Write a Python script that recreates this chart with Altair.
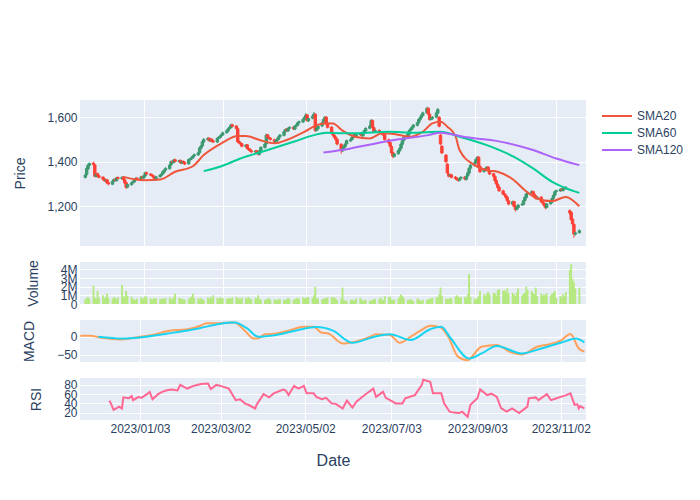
import altair as alt
import pandas as pd

# ---------------- data ----------------
N_DAYS = 260
dates = pd.bdate_range("2022-11-21", periods=N_DAYS, freq="C", weekmask="Sun Mon Tue Wed Thu")
date_str = [d.strftime("%Y-%m-%d") for d in dates]

opens = [
    1330,1342,1368,1384,1394,1386,1334,1346,1337,1331,
    1323,1314,1319,1306,1299,1313,1321,1315,1329,1324,
    1331,1319,1306,1286,1297,1306,1309,1319,1326,1319,
    1333,1327,1336,1351,1344,1341,1337,1331,1319,1333,
    1339,1346,1354,1363,1369,1386,1401,1397,1409,1401,
    1406,1394,1401,1397,1391,1409,1413,1417,1426,1431,
    1441,1461,1471,1489,1501,1506,1494,1501,1493,1489,
    1506,1509,1516,1521,1531,1539,1549,1554,1566,1561,
    1549,1491,1484,1481,1469,1476,1459,1456,1449,1444,
    1449,1441,1434,1451,1464,1481,1521,1509,1506,1499,
    1489,1496,1501,1513,1519,1536,1546,1539,1551,1556,
    1547,1561,1564,1576,1579,1591,1599,1611,1584,1596,
    1604,1614,1541,1549,1561,1574,1591,1601,1571,1556,
    1531,1519,1511,1501,1479,1449,1461,1469,1481,1494,
    1501,1509,1521,1514,1523,1526,1517,1531,1539,1551,
    1559,1586,1554,1536,1541,1534,1531,1524,1521,1499,
    1486,1469,1441,1424,1436,1449,1461,1479,1496,1509,
    1524,1541,1547,1556,1564,1576,1589,1599,1609,1621,
    1641,1614,1591,1594,1601,1619,1600,1520,1470,1430,
    1390,1345,1336,1341,1331,1326,1321,1317,1326,1331,
    1321,1336,1349,1371,1384,1396,1409,1421,1379,1356,
    1364,1371,1376,1359,1346,1334,1316,1299,1286,1269,
    1256,1249,1241,1224,1209,1221,1199,1186,1194,1206,
    1209,1226,1239,1256,1259,1266,1254,1246,1234,1241,
    1221,1214,1206,1194,1211,1219,1236,1249,1266,1269,
    1276,1271,1281,1279,1180,1172,1142,1118,1074,1081,
]
closes = [
    1340,1370,1385,1392,1388,1335,1345,1338,1330,1322,
    1315,1318,1305,1300,1312,1320,1316,1328,1325,1330,
    1320,1305,1285,1298,1305,1310,1318,1325,1320,1332,
    1328,1335,1350,1345,1340,1338,1330,1320,1332,1340,
    1345,1355,1362,1370,1385,1400,1398,1408,1402,1405,
    1395,1400,1398,1390,1410,1412,1418,1425,1432,1440,
    1462,1470,1490,1500,1505,1495,1500,1492,1490,1505,
    1510,1515,1522,1530,1540,1548,1555,1565,1560,1550,
    1490,1485,1480,1470,1475,1460,1455,1450,1445,1448,
    1440,1435,1450,1465,1480,1520,1510,1505,1500,1490,
    1495,1502,1512,1520,1535,1545,1540,1550,1555,1548,
    1560,1565,1575,1580,1590,1600,1610,1585,1595,1605,
    1615,1540,1550,1560,1575,1590,1600,1570,1555,1530,
    1520,1510,1500,1480,1450,1460,1470,1480,1495,1500,
    1510,1520,1515,1522,1525,1518,1530,1540,1550,1560,
    1585,1555,1535,1540,1535,1530,1525,1520,1500,1485,
    1470,1440,1425,1435,1450,1460,1480,1495,1510,1525,
    1540,1548,1555,1565,1575,1590,1598,1610,1620,1640,
    1615,1590,1595,1600,1620,1635,1560,1480,1440,1400,
    1350,1335,1340,1330,1325,1320,1318,1325,1330,1322,
    1335,1350,1370,1385,1395,1410,1420,1380,1355,1365,
    1370,1375,1360,1345,1335,1315,1300,1285,1270,1255,
    1250,1240,1225,1210,1220,1200,1185,1195,1205,1210,
    1225,1240,1255,1260,1265,1255,1245,1235,1240,1220,
    1215,1205,1195,1210,1220,1235,1250,1265,1270,1275,
    1272,1280,1280,1285,1170,1140,1120,1075,1080,1090,
]
highs = [
    1345,1376,1390,1398,1400,1390,1350,1351,1342,1335,
    1328,1323,1323,1311,1316,1325,1326,1332,1334,1335,
    1336,1323,1310,1303,1310,1315,1323,1330,1331,1337,
    1338,1341,1356,1355,1349,1346,1341,1335,1337,1345,
    1350,1360,1367,1376,1390,1406,1406,1413,1414,1410,
    1410,1405,1406,1402,1415,1418,1423,1430,1437,1446,
    1468,1476,1496,1507,1511,1511,1505,1506,1498,1510,
    1515,1520,1527,1536,1545,1554,1561,1572,1571,1565,
    1553,1496,1489,1486,1480,1480,1464,1461,1454,1453,
    1453,1446,1455,1470,1486,1527,1525,1514,1510,1504,
    1500,1507,1517,1525,1540,1550,1551,1555,1560,1561,
    1565,1570,1580,1586,1596,1606,1620,1615,1600,1611,
    1624,1618,1556,1565,1580,1596,1606,1605,1576,1560,
    1535,1524,1515,1505,1483,1466,1475,1486,1500,1506,
    1515,1526,1526,1528,1531,1530,1535,1545,1556,1566,
    1592,1590,1559,1546,1546,1539,1536,1529,1525,1504,
    1490,1473,1446,1440,1455,1465,1486,1500,1515,1530,
    1545,1553,1560,1570,1580,1596,1604,1616,1626,1648,
    1645,1618,1600,1606,1626,1642,1605,1525,1475,1435,
    1394,1350,1346,1346,1336,1331,1326,1330,1336,1335,
    1340,1356,1376,1391,1401,1416,1426,1425,1384,1370,
    1376,1381,1380,1364,1350,1339,1320,1304,1290,1274,
    1261,1254,1245,1229,1225,1225,1204,1200,1210,1215,
    1230,1245,1260,1266,1272,1270,1259,1250,1245,1245,
    1226,1219,1210,1215,1225,1240,1255,1270,1276,1281,
    1281,1286,1287,1291,1185,1176,1146,1122,1086,1096,
]
lows = [
    1325,1338,1362,1380,1383,1330,1329,1333,1325,1317,
    1310,1309,1300,1294,1295,1308,1311,1311,1320,1319,
    1315,1300,1278,1281,1292,1301,1304,1314,1315,1314,
    1323,1322,1331,1340,1335,1333,1325,1314,1315,1328,
    1334,1341,1349,1358,1364,1381,1393,1392,1397,1396,
    1390,1389,1393,1385,1386,1404,1408,1412,1421,1426,
    1436,1456,1466,1484,1496,1490,1489,1487,1484,1484,
    1501,1504,1511,1516,1526,1534,1544,1549,1555,1545,
    1485,1479,1474,1465,1464,1455,1450,1445,1439,1439,
    1435,1428,1429,1446,1459,1476,1505,1500,1495,1485,
    1484,1491,1496,1508,1514,1531,1535,1534,1546,1543,
    1542,1556,1559,1571,1574,1586,1594,1580,1579,1591,
    1599,1535,1536,1544,1556,1569,1586,1565,1550,1525,
    1515,1505,1495,1474,1436,1444,1456,1464,1476,1489,
    1496,1504,1510,1509,1518,1513,1512,1526,1534,1546,
    1554,1550,1530,1531,1530,1525,1520,1515,1495,1480,
    1465,1434,1416,1419,1431,1444,1456,1474,1491,1504,
    1519,1536,1542,1551,1559,1571,1584,1594,1604,1616,
    1610,1585,1586,1589,1596,1614,1555,1475,1435,1395,
    1345,1330,1331,1325,1319,1314,1310,1312,1321,1316,
    1316,1331,1344,1366,1379,1391,1404,1375,1350,1351,
    1359,1366,1355,1340,1330,1310,1295,1280,1264,1250,
    1244,1235,1220,1204,1204,1195,1176,1181,1189,1201,
    1204,1221,1234,1251,1254,1250,1240,1230,1229,1215,
    1210,1199,1186,1189,1206,1214,1231,1244,1261,1264,
    1267,1266,1275,1274,1160,1134,1114,1058,1068,1076,
]
volumes_m = [
    0.55,0.7,0.8,0.6,2.1,0.75,0.6,1.5,0.7,1.0,
    0.65,0.8,1.2,0.7,0.6,0.8,0.7,0.55,0.75,2.2,
    0.9,0.8,1.5,0.95,0.85,0.6,0.5,0.45,0.6,0.75,
    0.7,0.6,0.9,0.8,0.65,0.55,0.6,0.7,0.65,0.6,
    0.55,0.65,0.6,0.7,0.75,0.6,0.55,0.8,1.2,0.7,
    0.65,0.6,0.55,0.5,0.6,0.7,0.85,1.2,0.7,0.65,
    0.6,0.65,0.55,0.5,0.75,0.6,0.8,0.65,1.0,0.7,
    0.6,0.75,0.65,0.7,0.6,0.65,0.7,0.6,0.75,0.8,
    0.7,0.65,0.6,0.75,0.7,0.65,0.8,0.6,0.55,0.7,
    0.65,1.0,0.6,0.5,0.45,0.55,0.6,0.65,0.5,0.55,
    0.5,0.45,0.55,0.6,0.5,0.45,0.55,0.7,0.6,0.5,
    0.55,0.65,0.7,0.6,0.75,0.65,0.7,0.8,0.75,0.7,
    1.0,2.0,0.65,0.6,0.55,0.6,0.65,0.7,0.75,0.8,
    0.7,0.8,0.6,0.45,0.65,1.9,0.5,0.35,0.4,0.45,
    0.55,0.35,0.45,0.65,0.7,0.55,0.3,0.45,0.5,0.4,
    0.35,0.5,0.55,0.6,0.55,0.75,0.5,0.45,0.9,0.8,
    0.85,0.5,0.45,0.55,0.6,0.85,1.1,0.9,0.7,0.5,
    0.45,0.6,0.4,0.35,0.65,0.55,0.4,0.35,0.5,0.45,
    0.55,0.6,0.65,0.7,0.75,0.8,1.1,1.9,0.95,0.6,
    0.6,0.55,0.7,0.65,0.85,1.0,0.9,0.7,0.8,0.85,
    0.7,1.1,3.45,0.8,0.65,0.5,0.7,0.9,1.5,1.1,
    0.85,1.2,1.4,1.1,1.3,1.2,0.95,1.6,1.7,1.5,
    1.6,1.4,1.8,1.2,1.3,1.1,0.9,1.3,1.8,1.0,
    1.2,1.3,2.0,1.6,1.5,1.3,1.1,1.9,0.9,1.2,
    0.95,1.1,1.0,1.25,1.0,1.2,1.3,1.5,0.7,0.9,
    0.75,1.1,0.9,1.4,3.95,4.6,2.9,2.5,1.8,1.9,
]

# moving averages (trading-day index, value)
sma20_idx = [20,31,39,48,57,63,72,80,84,92,99,106,115,122,127,130,135,142,149,156,163,170,178,183,187,190,194,197,204,211,217,225,231,238,245,253,259]
sma20_val = [1332,1317,1320,1355,1380,1430,1483,1516,1516,1498,1483,1498,1535,1565,1573,1572,1540,1513,1505,1528,1525,1513,1535,1573,1580,1558,1515,1453,1385,1362,1355,1317,1272,1235,1223,1242,1200]
sma60_idx = [63,72,82,96,109,120,127,135,142,159,173,187,197,211,225,235,245,252,259]
sma60_val = [1358,1380,1415,1453,1490,1520,1531,1528,1528,1535,1531,1535,1513,1475,1422,1370,1310,1284,1260]
sma120_idx = [125,139,145,163,180,187,200,217,235,248,259]
sma120_val = [1442,1460,1470,1498,1520,1531,1510,1493,1453,1415,1385]

macd_idx = [0,5,10,22,31,38,46,55,62,65,72,79,84,89,92,95,101,108,115,120,124,128,135,142,149,153,159,164,170,175,180,185,189,194,199,202,207,214,221,228,235,242,248,253,257,259]
macd_val = [3,3,-2,-7.5,0,5,17,21,30,38,38,40,19,-5,-5,7,9,17,28,28,11,10,-19,-14,0,7,5,-17,0,17,31,27,0,-56,-66,-56,-28,-23,-42,-50,-28,-21,-11,8,-33,-42]
signal_idx = [9,22,31,45,62,72,79,86,92,101,113,122,130,140,150,159,170,180,186,190,200,207,214,228,238,248,255,259]
signal_val = [0,-5,-2,9,24,36,40,24,0,5,19,27,17,-17,-2,7,-9,21,28,0,-61,-47,-26,-47,-33,-17,-5,-16]

rsi_idx = [15,16,18,20,22,23,25,27,28,30,32,34,36,38,40,43,45,48,50,52,55,58,60,63,66,68,70,73,77,80,83,85,87,90,91,94,98,99,104,106,108,110,113,115,117,120,122,124,127,129,132,135,138,140,143,145,148,151,153,156,158,161,163,166,168,171,173,176,177,180,182,186,188,190,193,195,197,199,201,204,206,209,212,214,217,219,223,226,230,231,234,236,240,243,245,248,250,253,254,256,257,258,259]
rsi_val = [46,40,26,33,29,53,51,56,47,54,52,60,65,49,60,65,69,70,68,80,72,76,80,82,83,71,80,78,72,47,49,39,37,29,37,60,53,61,70,68,58,78,72,78,62,62,54,49,52,40,39,29,46,31,44,54,61,72,54,65,52,44,40,40,51,56,58,80,91,87,62,62,40,22,20,19,22,11,37,51,70,58,61,54,30,22,29,19,33,51,53,47,60,47,51,54,58,62,37,38,29,34,29]

# ---------------- tables ----------------
price_df = pd.DataFrame({"date": date_str, "open": opens, "high": highs, "low": lows, "close": closes})
vol_df = pd.DataFrame({"date": date_str, "volume": volumes_m})

def series(name, idx, val):
    return pd.DataFrame({"date": [date_str[i] for i in idx], "value": val, "series": name})

sma_df = pd.concat([series("SMA20", sma20_idx, sma20_val),
                    series("SMA60", sma60_idx, sma60_val),
                    series("SMA120", sma120_idx, sma120_val)], ignore_index=True)
macd_df = pd.concat([series("MACD", macd_idx, macd_val),
                     series("Signal", signal_idx, signal_val)], ignore_index=True)
rsi_df = series("RSI", rsi_idx, rsi_val)

# ---------------- styling ----------------
FONT = "Liberation Sans"
TXT = "#2a3f5f"
W = 506
x_dom = [alt.DateTime(year=2022, month=11, date=20, hours=19, utc=True),
         alt.DateTime(year=2023, month=11, date=20, hours=5, utc=True)]
tick_vals = [alt.DateTime(year=2023, month=m, date=d, utc=True)
             for m, d in [(1, 3), (3, 2), (5, 2), (7, 3), (9, 3), (11, 2)]]

def xenc(show=False):
    if show:
        ax = alt.Axis(values=tick_vals, grid=True, labels=True, title="Date",
                      labelExpr="utcFormat(datum.value, '%Y/%m/%d')",
                      titleFontSize=16, titleY=40, titleBaseline="middle", labelPadding=3)
    else:
        ax = alt.Axis(values=tick_vals, grid=True, labels=False, title=None)
    return alt.X("date:T", scale=alt.Scale(type="utc", domain=x_dom), axis=ax)

def yaxis(title, tx, h, **kw):
    return alt.Axis(title=title, titleX=tx, titleY=h / 2, titleAngle=270,
                    titleBaseline="middle", titleAlign="center", **kw)

up = "datum.close >= datum.open"
INC, DEC = "#3D9970", "#FF4136"

PH = 146
price_scale = alt.Scale(domain=[1021, 1678], nice=False, zero=False)
price_axis = yaxis("Price", -60, PH, values=[1200, 1400, 1600],
                   labelExpr="format(datum.value, ',')")

wicks = alt.Chart(price_df).mark_rule(strokeWidth=1).encode(
    x=xenc(), y=alt.Y("low:Q", scale=price_scale, axis=price_axis), y2="high:Q",
    color=alt.condition(up, alt.value(INC), alt.value(DEC)))
bodies = alt.Chart(price_df).mark_bar(size=2.4, strokeWidth=1).encode(
    x=xenc(), y=alt.Y("open:Q", scale=price_scale, axis=price_axis), y2="close:Q",
    color=alt.condition(up, alt.value(INC), alt.value(DEC)),
    stroke=alt.condition(up, alt.value(INC), alt.value(DEC)))
smas = alt.Chart(sma_df).mark_line(strokeWidth=2, interpolate="monotone").encode(
    x=xenc(), y=alt.Y("value:Q", scale=price_scale, axis=price_axis),
    color=alt.Color("series:N",
                    scale=alt.Scale(domain=["SMA20", "SMA60", "SMA120"],
                                    range=["#EF553B", "#00CC96", "#AB63FA"]),
                    legend=alt.Legend(title=None, orient="none", legendX=531, legendY=10,
                                      symbolType="M-3,0H3", symbolSize=100, symbolStrokeWidth=2,
                                      labelFont=FONT, labelFontSize=12, labelColor=TXT,
                                      labelOffset=14, rowPadding=5)))
price = alt.layer(wicks, bodies, smas).properties(width=W, height=PH)

SH = 42
volume = alt.Chart(vol_df).mark_bar(size=1.9, color="#B6E880").encode(
    x=xenc(),
    y=alt.Y("volume:Q", scale=alt.Scale(domain=[0, 4.85], nice=False),
            axis=yaxis("Volume", -47, SH, values=[0, 1, 2, 3, 4],
                       labelExpr="datum.value == 0 ? '0' : datum.value + 'M'")),
).properties(width=W, height=SH)

macd = alt.Chart(macd_df).mark_line(strokeWidth=2, interpolate="monotone").encode(
    x=xenc(),
    y=alt.Y("value:Q", scale=alt.Scale(domain=[-71, 47], nice=False, zero=False),
            axis=yaxis("MACD", -51, SH, values=[-50, 0])),
    color=alt.Color("series:N", scale=alt.Scale(domain=["MACD", "Signal"],
                                                range=["#FFA15A", "#19D3F3"]), legend=None),
).properties(width=W, height=SH)

rsi = alt.Chart(rsi_df).mark_line(strokeWidth=2, color="#FF6692").encode(
    x=xenc(True),
    y=alt.Y("value:Q", scale=alt.Scale(domain=[4, 95], nice=False, zero=False),
            axis=yaxis("RSI", -44, SH, values=[20, 40, 60, 80])),
).properties(width=W, height=SH)

chart = alt.vconcat(price, volume, macd, rsi, spacing=16, bounds="flush").resolve_scale(
    color="independent"
).properties(
    padding={"left": 13, "top": 100, "right": 5, "bottom": 5},
    background="white",
).configure_view(
    fill="#E5ECF6", strokeWidth=0
).configure_axis(
    gridColor="white", gridWidth=1, domain=False, ticks=False,
    labelFont=FONT, titleFont=FONT, labelColor=TXT, titleColor=TXT,
    labelFontSize=12, titleFontSize=14, titleFontWeight="normal",
    labelPadding=3, labelFlush=False, labelOverlap=False,
)

chart.save("out.html", embed_options={"renderer": "svg", "actions": False})
